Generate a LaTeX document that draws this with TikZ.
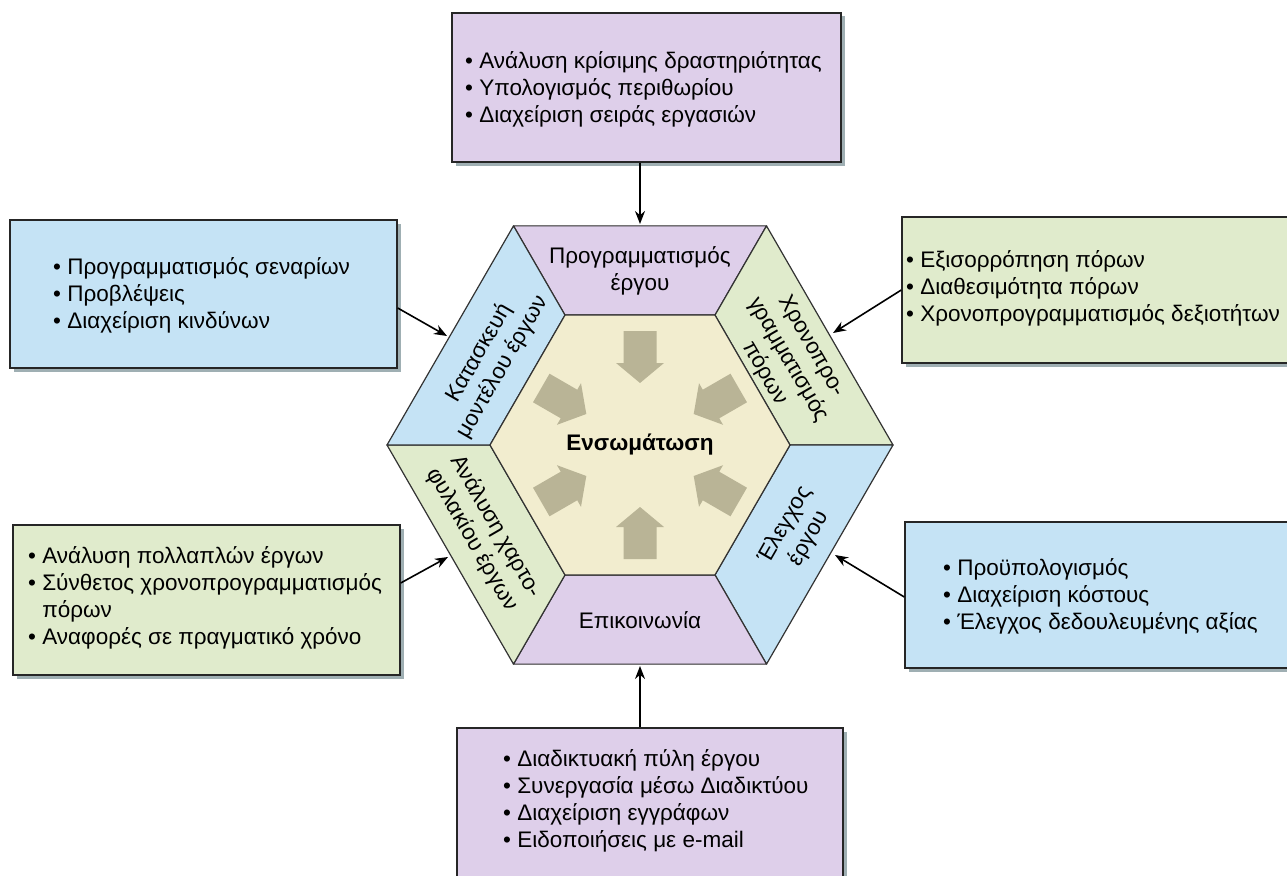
\documentclass[tikz,border=0pt]{standalone}
\usepackage{fontspec}
\setmainfont{Liberation Sans}
\usetikzlibrary{arrows.meta,shadows}

\definecolor{lilac}{RGB}{222,207,234}
\definecolor{skyblue}{RGB}{197,227,245}
\definecolor{sage}{RGB}{224,235,204}
\definecolor{cream}{RGB}{242,237,207}
\definecolor{khaki}{RGB}{185,180,150}
\definecolor{shade}{RGB}{135,155,160}

\begin{document}
\begin{tikzpicture}[x=1pt,y=1pt,
  infobox/.style={draw=black!85, line width=1.4pt, inner sep=0pt,
    drop shadow={shadow xshift=3.5pt, shadow yshift=-3.5pt, fill=shade, opacity=0.8}},
  boxtext/.style={anchor=west, inner sep=0pt, align=left,
    font=\fontsize{22.5}{27}\selectfont},
  segment/.style={draw=black!80, line width=1.2pt, line join=round},
  seglabel/.style={align=center, inner sep=0pt,
    font=\fontsize{22.5}{27}\selectfont},
  link/.style={line width=1.6pt, -{Stealth[length=13pt,width=10pt]}},
  blockarrow/.style={fill=khaki}]

\useasboundingbox (0,0) rectangle (1287,-875);
\clip (0,0) rectangle (1287,-875);
\fill[white] (0,0) rectangle (1287,-875);

% ---------- outer information boxes ----------
\node[infobox, fill=lilac, minimum width=389pt, minimum height=149pt] (planbox) at (646.5,-87.5) {};
\node[boxtext] (plantext) at (465,-89)
  {• Ανάλυση κρίσιμης δραστηριότητας\\• Υπολογισμός περιθωρίου\\• Διαχείριση σειράς εργασιών};

\node[infobox, fill=sage, minimum width=393pt, minimum height=146pt] (resbox) at (1098.5,-290) {};
\node[boxtext] (restext) at (906,-288)
  {• Εξισορρόπηση πόρων\\• Διαθεσιμότητα πόρων\\• Χρονοπρογραμματισμός δεξιοτήτων};

\node[infobox, fill=skyblue, minimum width=387pt, minimum height=148pt] (modelbox) at (203.5,-294) {};
\node[boxtext] (modeltext) at (53,-295)
  {• Προγραμματισμός σεναρίων\\• Προβλέψεις\\• Διαχείριση κινδύνων};

\node[infobox, fill=sage, minimum width=387pt, minimum height=150pt] (portbox) at (206.5,-600) {};
\node[boxtext] (porttext) at (28,-598)
  {• Ανάλυση πολλαπλών έργων\\• Σύνθετος χρονοπρογραμματισμός\\\phantom{• }πόρων\\• Αναφορές σε πραγματικό χρόνο};

\node[infobox, fill=skyblue, minimum width=390pt, minimum height=146pt] (ctrlbox) at (1100,-595) {};
\node[boxtext] (ctrltext) at (943,-596)
  {• Προϋπολογισμός\\• Διαχείριση κόστους\\• Έλεγχος δεδουλευμένης αξίας};

\node[infobox, fill=lilac, minimum width=386pt, minimum height=157pt] (commbox) at (650,-806.5) {};
\node[boxtext] (commtext) at (503,-801)
  {• Διαδικτυακή πύλη έργου\\• Συνεργασία μέσω Διαδικτύου\\• Διαχείριση εγγράφων\\• Ειδοποιήσεις με e-mail};

% ---------- central hexagon ----------
\begin{scope}[shift={(640,-445)}]
  \foreach \a in {0,60,...,300} {
    \coordinate (O\a) at (\a:253);
    \coordinate (I\a) at (\a:150);
  }
  % soft shadow under the hexagon
  \fill[shade, opacity=0.45, shift={(3,-3)}]
    (O0)--(O60)--(O120)--(O180)--(O240)--(O300)--cycle;
  \filldraw[segment, fill=lilac]   (O60)--(O120)--(I120)--(I60)--cycle;
  \filldraw[segment, fill=sage]    (O0)--(O60)--(I60)--(I0)--cycle;
  \filldraw[segment, fill=skyblue] (O300)--(O0)--(I0)--(I300)--cycle;
  \filldraw[segment, fill=lilac]   (O240)--(O300)--(I300)--(I240)--cycle;
  \filldraw[segment, fill=sage]    (O180)--(O240)--(I240)--(I180)--cycle;
  \filldraw[segment, fill=skyblue] (O120)--(O180)--(I180)--(I120)--cycle;
  \filldraw[segment, fill=cream]   (I0)--(I60)--(I120)--(I180)--(I240)--(I300)--cycle;

  % block arrows pointing to the centre
  \foreach \a in {90,30,-30,-90,-150,150} {
    \fill[blockarrow, rotate=\a]
      (114,16.5) -- (82,16.5) -- (82,24) -- (62,0) -- (82,-24)
      -- (82,-16.5) -- (114,-16.5) -- cycle;
  }
\end{scope}

\node[font=\fontsize{22.5}{26}\selectfont\bfseries] (core) at (640,-445) {Ενσωμάτωση};

\node[seglabel] (lblplan) at (640,-271) {Προγραμματισμός\\έργου};
\node[seglabel, rotate=-60] (lblres) at (788,-360) {Χρονοπρο-\\γραμματισμός\\πόρων};
\node[seglabel, rotate=60] (lblctrl) at (797,-532) {Έλεγχος\\έργου};
\node[seglabel] (lblcomm) at (640,-620) {Επικοινωνία};
\node[seglabel, rotate=-60] (lblport) at (484,-533) {Ανάλυση χαρτο-\\φυλακίου έργων};
\node[seglabel, rotate=60] (lblmodel) at (491,-360) {Κατασκευή\\μοντέλου έργων};

% ---------- connectors ----------
\coordinate (hexN)  at (640,-224);
\coordinate (hexS)  at (640,-666);
\coordinate (hexNE) at (833,-333);
\coordinate (hexSE) at (835,-555);
\coordinate (hexSW) at (448,-557);
\coordinate (hexNW) at (447,-336);

\draw[link] (planbox.south -| hexN) -- (hexN);
\draw[link] (commbox.north -| hexS) -- (hexS);
\draw[link] (resbox.west) -- (hexNE);
\draw[link] ([yshift=-2pt]ctrlbox.west) -- (hexSE);
\draw[link] ([yshift=17pt]portbox.east) -- (hexSW);
\draw[link] ([yshift=-14pt]modelbox.east) -- (hexNW);

\end{tikzpicture}
\end{document}
